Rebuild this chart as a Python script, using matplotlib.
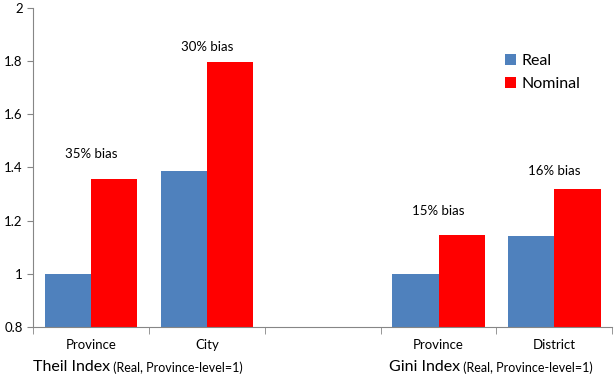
import numpy as np
import matplotlib.pyplot as plt

plt.rcParams['font.family'] = ['Lato', 'DejaVu Sans']

categories = ['Province', 'City', '', 'Province', 'District']
real = [1.0, 1.385, np.nan, 1.0, 1.14]
nominal = [1.355, 1.795, np.nan, 1.145, 1.317]
bias_labels = ['35% bias', '30% bias', '', '15% bias', '16% bias']
y_ticks = [0.8, 1.0, 1.2, 1.4, 1.6, 1.8, 2.0]

blue = '#4F81BD'
red = '#FF0000'
gray = '#868686'

fig = plt.figure(figsize=(6.16, 3.77), dpi=100)
ax = fig.add_axes([0.054, 0.133, 0.940, 0.846])

x = np.arange(len(categories))
w = 0.4
ax.bar(x - w / 2, real, w, color=blue, label='Real')
ax.bar(x + w / 2, nominal, w, color=red, label='Nominal')

# bias labels above each group
label_offsets = [14, 7, 0, 13, 9]
for i, txt in enumerate(bias_labels):
    if txt:
        ax.annotate(txt, xy=(x[i], nominal[i]), xytext=(0, label_offsets[i]),
                    textcoords='offset points', ha='center', va='bottom',
                    fontsize=9.5, color='black')

ax.set_ylim(0.8, 2.0)
ax.set_xlim(-0.5, len(categories) - 0.5)
ax.set_yticks(y_ticks)
ax.set_yticklabels([f'{v:g}' for v in y_ticks], fontsize=9.5)
ax.set_xticks(x)
ax.set_xticklabels(categories, fontsize=9.5)
ax.set_xticks(np.arange(len(categories) + 1) - 0.5, minor=True)
ax.tick_params(axis='x', which='major', length=0, pad=9)
ax.tick_params(axis='x', which='minor', length=5, color=gray)
ax.tick_params(axis='y', length=4, color=gray)

for s in ['top', 'right']:
    ax.spines[s].set_visible(False)
for s in ['left', 'bottom']:
    ax.spines[s].set_color(gray)

leg = ax.legend(loc='upper left', bbox_to_anchor=(0.79, 0.9), frameon=False,
                fontsize=11.5, handlelength=0.7, handleheight=0.7,
                handletextpad=0.3, labelspacing=0.55)

# group titles under the axis
for xpos, name in [(0.0, 'Theil Index'), (0.615, 'Gini Index')]:
    t = ax.text(xpos, -0.125, name, transform=ax.transAxes, fontsize=11.5,
                ha='left', va='center')
    ax.annotate(' (Real, Province-level=1)', xy=(1, 0), xycoords=t,
                fontsize=9, ha='left', va='bottom')

fig.savefig('out.png', dpi=100)
